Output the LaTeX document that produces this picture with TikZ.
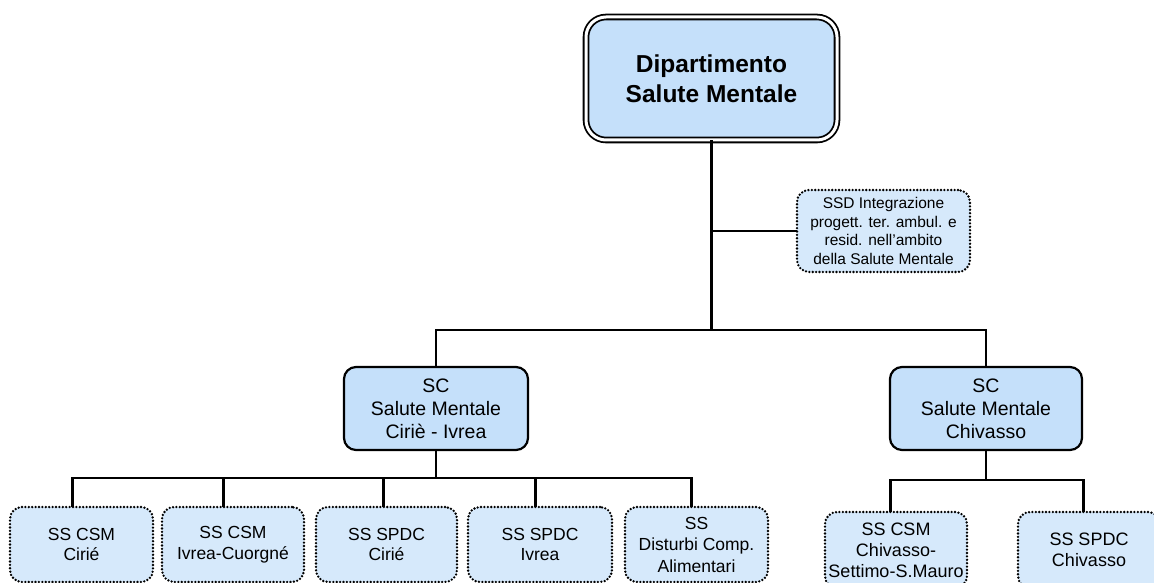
\documentclass[tikz,border=0pt]{standalone}
\usepackage{fontspec}
\setmainfont{Liberation Sans}
\usetikzlibrary{calc}
\definecolor{fillA}{RGB}{197,224,250}
\definecolor{fillB}{RGB}{214,233,251}
\begin{document}
\begin{tikzpicture}[x=1pt,y=-1pt,
  conn/.style={line width=2.6pt,line cap=rect},
  solidbox/.style={draw,line width=2.2pt,fill=fillA,rounded corners=12pt,align=center,inner sep=0pt,font=\fontsize{19.5}{23}\selectfont},
  dotbox/.style={draw,line width=2.6pt,dash pattern=on 0pt off 3.4pt,line cap=round,fill=fillB,rounded corners=12pt,align=center,inner sep=0pt,font=\fontsize{17.5}{20.5}\selectfont},
  topbox/.style={draw,double,double distance=3pt,line width=1.8pt,fill=fillA,rounded corners=20pt,align=center,inner sep=0pt,font=\bfseries\fontsize{24.5}{30}\selectfont}]
\useasboundingbox (0,0) rectangle (1154,583);
\fill[white] (0,0) rectangle (1154,583);

\node[topbox,minimum width=251pt,minimum height=123pt] (dip) at (711.5,78.5) {Dipartimento\\Salute Mentale};
\node[dotbox,minimum width=173pt,minimum height=82pt,font=\fontsize{15.5}{18.7}\selectfont] (ssd) at (883.5,231) {SSD Integrazione\\progett. ter. ambul. e\\resid. nell’ambito\\della Salute Mentale};

\node[solidbox,minimum width=184pt,minimum height=83pt] (sci) at (436,408.5) {SC\\Salute Mentale\\Ciriè - Ivrea};
\node[solidbox,minimum width=192pt,minimum height=83pt] (sch) at (986,408.5) {SC\\Salute Mentale\\Chivasso};

\node[dotbox,minimum width=143pt,minimum height=75pt] (b1) at (81.5,544.5) {SS CSM\\Cirié};
\node[dotbox,minimum width=142pt,minimum height=75pt] (b2) at (233,544.5) {SS CSM\\Ivrea-Cuorgné};
\node[dotbox,minimum width=141pt,minimum height=75pt] (b3) at (386.5,544.5) {SS SPDC\\Cirié};
\node[dotbox,minimum width=144pt,minimum height=75pt] (b4) at (540,544.5) {SS SPDC\\Ivrea};
\node[dotbox,minimum width=143pt,minimum height=75pt,font=\fontsize{17.5}{21.5}\selectfont] (b5) at (696.5,544.5) {SS\\Disturbi Comp.\\Alimentari};
\node[dotbox,minimum width=142pt,minimum height=76pt,font=\fontsize{18}{21}\selectfont] (b6) at (896,550) {SS CSM\\Chivasso-\\Settimo-S.Mauro};
\node[dotbox,minimum width=142pt,minimum height=76pt,font=\fontsize{18}{20.5}\selectfont] (b7) at (1089,550) {SS SPDC\\Chivasso};

\coordinate (j1) at (711.5,330);
\coordinate (j2) at (436,478);
\coordinate (j3) at (986,480);

\draw[conn] (dip.south) -- (j1);
\draw[conn] (dip.south |- ssd.west) -- (ssd.west);
\draw[conn] (sci.north) |- (j1) -| (sch.north);

\draw[conn] (sci.south) -- (j2);
\draw[conn] (j2) -| ($(b1.north west)+(64,0)$);
\draw[conn] (j2) -| ($(b2.north west)+(63,0)$);
\draw[conn] (j2) -| ($(b3.north west)+(69,0)$);
\draw[conn] (j2) -| ($(b4.north west)+(69,0)$);
\draw[conn] (j2) -| ($(b5.north west)+(68,0)$);

\draw[conn] (sch.south) -- (j3);
\draw[conn] (j3) -| ($(b6.north west)+(67,0)$);
\draw[conn] (j3) -| ($(b7.north west)+(67,0)$);
\end{tikzpicture}
\end{document}
